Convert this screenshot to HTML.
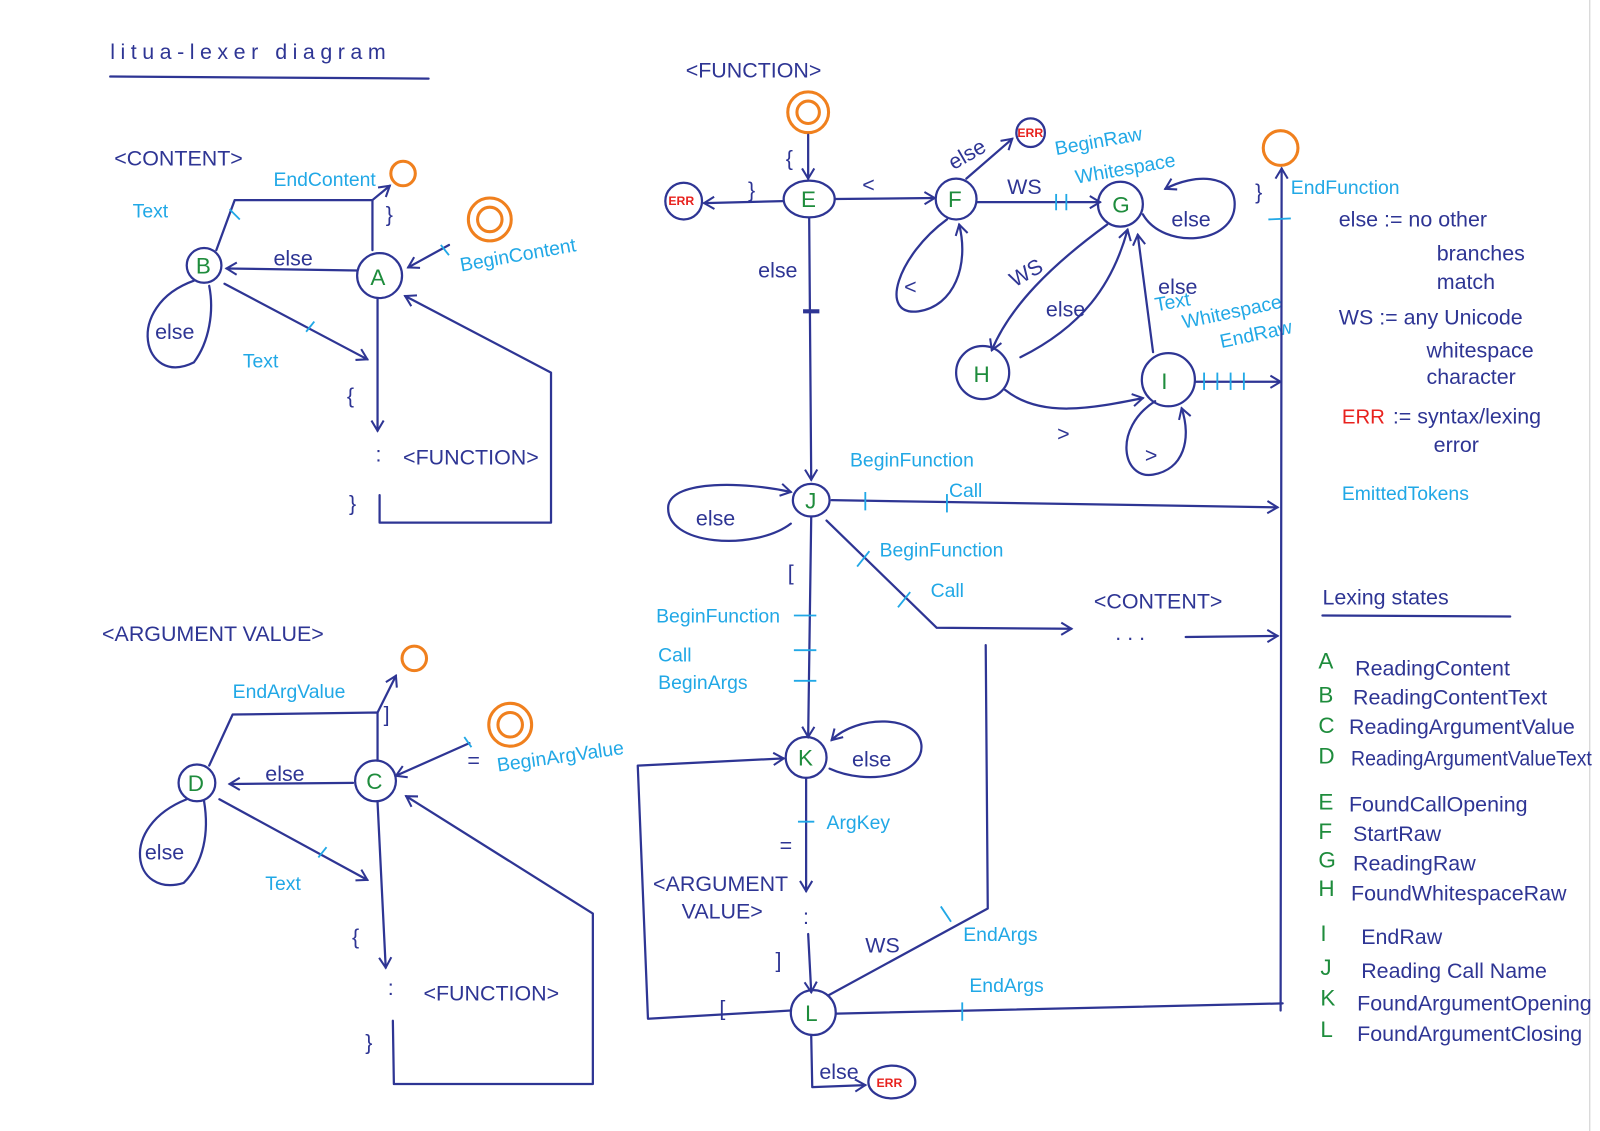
<!DOCTYPE html>
<html><head><meta charset="utf-8"><style>
html,body{margin:0;padding:0;background:#fff;}
svg{display:block}
text{font-family:"Liberation Sans",sans-serif;}
.b{fill:none;stroke:#2e3594;stroke-width:2.2;stroke-linecap:round;stroke-linejoin:round}
.c{fill:none;stroke:#21a8e6;stroke-width:1.8}
.o{fill:none;stroke:#f0801e;stroke-width:3}
.bt{fill:#2e3594;font-size:21px}
.ct{fill:#21a8e6;font-size:19px}
.gt{fill:#1e8c3c;font-size:22px}
.rt{fill:#e8221e;font-size:12px;font-weight:bold}
</style></head><body>
<svg width="1600" height="1131" viewBox="0 0 1568 1108" preserveAspectRatio="none" xmlns="http://www.w3.org/2000/svg">
<defs><marker id="a" markerWidth="14" markerHeight="14" refX="11" refY="7" orient="auto" markerUnits="userSpaceOnUse"><path d="M1,1 L11,7 L1,13" fill="none" stroke="#2e3594" stroke-width="2"/></marker></defs>
<rect width="1568" height="1108" fill="#fff"/>
<line x1="1558" y1="0" x2="1558" y2="1108" stroke="#ccc" stroke-width="1"/>
<!-- title -->
<text x="108" y="58" class="bt" font-size="26" textLength="270">litua-lexer  diagram</text>
<path class="b" d="M108,75 L420,77"/>

<!-- CONTENT -->
<text x="112" y="162" class="bt" font-size="22">&lt;CONTENT&gt;</text>
<circle class="b" cx="200" cy="260" r="17"/><text x="192" y="268" class="gt">B</text>
<circle class="b" cx="372" cy="270" r="22"/><text x="363" y="279" class="gt">A</text>
<circle class="o" cx="395" cy="170" r="12"/>
<circle class="o" cx="480" cy="215" r="21"/><circle class="o" cx="480" cy="215" r="12"/>
<path class="b" d="M350,265 L222,263" marker-end="url(#a)"/><text x="268" y="260" class="bt" font-size="18">else</text>
<path class="b" d="M212,245 L230,196 L365,196 L365,245"/><path class="b" d="M365,196 L382,182" marker-end="url(#a)"/>
<text x="268" y="182" class="ct" font-size="15">EndContent</text><text x="378" y="217" class="bt" font-size="18">}</text>
<line class="c" x1="225" y1="205" x2="235" y2="215"/>
<text x="130" y="213" class="ct">Text</text>
<path class="b" d="M190,275 C120,300 140,380 190,355 C205,335 210,305 205,280" /><text x="152" y="332" class="bt">else</text>
<path class="b" d="M220,278 L360,352" marker-end="url(#a)"/><text x="238" y="360" class="ct">Text</text>
<line class="c" x1="300" y1="325" x2="308" y2="315"/>
<path class="b" d="M370,292 L370,422" marker-end="url(#a)"/><text x="340" y="395" class="bt">{</text>
<text x="368" y="452" class="bt" font-size="16">:</text><text x="395" y="455" class="bt" font-size="17">&lt;FUNCTION&gt;</text>
<text x="342" y="500" class="bt">}</text>
<path class="b" d="M372,485 L372,512 L540,512 L540,365 L397,290" marker-end="url(#a)"/>
<path class="b" d="M440,240 L400,262" marker-end="url(#a)"/><line class="c" x1="432" y1="240" x2="440" y2="250"/>
<text x="452" y="266" class="ct" transform="rotate(-10 452 266)">BeginContent</text>

<!-- ARGUMENT VALUE -->
<text x="100" y="628" class="bt" font-size="22">&lt;ARGUMENT VALUE&gt;</text>
<circle class="b" cx="193" cy="767" r="18"/><text x="184" y="775" class="gt">D</text>
<circle class="b" cx="368" cy="765" r="20"/><text x="359" y="773" class="gt">C</text>
<circle class="o" cx="406" cy="645" r="12"/>
<circle class="o" cx="500" cy="710" r="21"/><circle class="o" cx="500" cy="710" r="12"/>
<path class="b" d="M346,767 L225,768" marker-end="url(#a)"/><text x="260" y="765" class="bt" font-size="18">else</text>
<path class="b" d="M205,750 L228,700 L370,698 L370,745"/><path class="b" d="M370,698 L388,662" marker-end="url(#a)"/>
<text x="228" y="684" class="ct" font-size="16">EndArgValue</text><text x="376" y="707" class="bt" font-size="18">]</text>
<path class="b" d="M183,783 C115,810 130,880 180,865 C200,845 205,815 200,785"/><text x="142" y="842" class="bt">else</text>
<path class="b" d="M215,783 L360,862" marker-end="url(#a)"/><text x="260" y="872" class="ct">Text</text>
<line class="c" x1="312" y1="840" x2="320" y2="830"/>
<path class="b" d="M370,786 L378,948" marker-end="url(#a)"/><text x="345" y="925" class="bt">{</text>
<text x="380" y="975" class="bt" font-size="16">:</text><text x="415" y="980" class="bt" font-size="16">&lt;FUNCTION&gt;</text>
<text x="358" y="1028" class="bt">}</text>
<path class="b" d="M385,1000 L386,1062 L581,1062 L581,895 L398,780" marker-end="url(#a)"/>
<path class="b" d="M460,728 L388,760" marker-end="url(#a)"/><line class="c" x1="455" y1="722" x2="462" y2="732"/>
<text x="458" y="752" class="bt">=</text><text x="488" y="756" class="ct" transform="rotate(-8 488 756)">BeginArgValue</text>

<!-- FUNCTION -->
<text x="672" y="76" class="bt" font-size="22">&lt;FUNCTION&gt;</text>
<circle class="o" cx="792" cy="110" r="20"/><circle class="o" cx="792" cy="110" r="11"/>
<path class="b" d="M792,132 L792,175" marker-end="url(#a)"/><text x="770" y="162" class="bt">{</text>
<ellipse class="b" cx="793" cy="195" rx="25" ry="18"/><text x="785" y="203" class="gt">E</text>
<circle class="b" cx="670" cy="197" r="18"/><text x="655" y="201" class="rt">ERR</text>
<path class="b" d="M767,197 L690,199" marker-end="url(#a)"/><text x="733" y="193" class="bt" font-size="18">}</text>
<path class="b" d="M818,195 L916,194" marker-end="url(#a)"/><text x="845" y="188" class="bt">&lt;</text>
<circle class="b" cx="937" cy="195" r="20"/><text x="929" y="203" class="gt">F</text>
<circle class="b" cx="1010" cy="130" r="14"/><text x="997" y="134" class="rt">ERR</text>
<path class="b" d="M947,175 L992,136" marker-end="url(#a)"/><text x="930" y="160" class="bt" font-size="17" transform="rotate(-30 945 155)">else</text>
<text x="1035" y="152" class="ct" font-size="16" transform="rotate(-10 1035 152)">BeginRaw</text>
<text x="1055" y="180" class="ct" font-size="16" transform="rotate(-10 1055 180)">Whitespace</text>
<path class="b" d="M958,198 L1078,198" marker-end="url(#a)"/><text x="987" y="190" class="bt">WS</text>
<line class="c" x1="1035" y1="190" x2="1035" y2="206"/><line class="c" x1="1045" y1="190" x2="1045" y2="206"/>
<path class="b" d="M928,215 C880,250 860,310 900,305 C935,300 950,260 940,220" marker-end="url(#a)"/><text x="886" y="288" class="bt">&lt;</text>
<circle class="b" cx="1098" cy="200" r="22"/><text x="1090" y="208" class="gt">G</text>
<path class="b" d="M1120,210 C1140,245 1210,240 1210,200 C1210,170 1170,170 1142,185" marker-end="url(#a)"/><text x="1148" y="222" class="bt">else</text>
<path class="b" d="M1085,220 C1030,260 990,300 972,343" marker-end="url(#a)"/><text x="990" y="275" class="bt" transform="rotate(-30 1005 270)">WS</text>
<path class="b" d="M1000,350 C1060,320 1090,280 1105,225" marker-end="url(#a)"/><text x="1025" y="310" class="bt" font-size="19">else</text>
<circle class="b" cx="963" cy="365" r="26"/><text x="954" y="374" class="gt">H</text>
<circle class="b" cx="1145" cy="372" r="26"/><text x="1138" y="381" class="gt">I</text>
<path class="b" d="M1130,345 L1115,230" marker-end="url(#a)"/>
<text x="1135" y="288" class="bt" font-size="19">else</text>
<text x="1133" y="305" class="ct" font-size="15" transform="rotate(-10 1133 305)">Text</text>
<text x="1160" y="322" class="ct" font-size="15" transform="rotate(-12 1160 322)">Whitespace</text>
<text x="1197" y="341" class="ct" font-size="14" transform="rotate(-12 1197 341)">EndRaw</text>
<path class="b" d="M985,382 C1020,410 1070,400 1120,390" marker-end="url(#a)"/><text x="1036" y="432" class="bt">&gt;</text>
<path class="b" d="M1132,393 C1090,420 1100,470 1130,465 C1160,460 1168,430 1158,400" marker-end="url(#a)"/><text x="1122" y="453" class="bt">&gt;</text>
<path class="b" d="M1172,374 L1255,374" marker-end="url(#a)"/>
<line class="c" x1="1180" y1="365" x2="1180" y2="382"/><line class="c" x1="1193" y1="365" x2="1193" y2="382"/><line class="c" x1="1206" y1="365" x2="1206" y2="382"/><line class="c" x1="1219" y1="365" x2="1219" y2="382"/>
<!-- E down to J -->
<path class="b" d="M793,214 L795,470" marker-end="url(#a)"/><text x="743" y="272" class="bt" font-size="19">else</text>
<line x1="787" y1="305" x2="803" y2="305" stroke="#2e3594" stroke-width="4"/>
<!-- end -->
<circle class="o" cx="1255" cy="145" r="17"/>
<path class="b" d="M1255,990 L1256,165" marker-end="url(#a)"/>
<text x="1230" y="195" class="bt" font-size="26">}</text><line class="c" x1="1243" y1="215" x2="1265" y2="214"/>
<text x="1265" y="190" class="ct" font-size="17">EndFunction</text>
<!-- J -->
<ellipse class="b" cx="795" cy="490" rx="18" ry="16"/><text x="789" y="498" class="gt" font-size="19">J</text>
<text x="833" y="457" class="ct" font-size="17">BeginFunction</text><text x="930" y="487" class="ct" font-size="17">Call</text>
<path class="b" d="M815,490 L1252,497" marker-end="url(#a)"/>
<line class="c" x1="848" y1="482" x2="848" y2="500"/><line class="c" x1="928" y1="484" x2="928" y2="502"/>
<path class="b" d="M775,513 C740,540 650,535 655,495 C660,470 730,472 775,482" marker-end="url(#a)"/><text x="682" y="515" class="bt">else</text>
<path class="b" d="M810,510 L918,615 L1050,616" marker-end="url(#a)"/>
<line class="c" x1="840" y1="555" x2="852" y2="540"/><line class="c" x1="880" y1="595" x2="892" y2="580"/>
<text x="862" y="545" class="ct" font-size="17">BeginFunction</text><text x="912" y="585" class="ct" font-size="17">Call</text>
<text x="1072" y="596" class="bt" font-size="15">&lt;CONTENT&gt;</text><text x="1093" y="627" class="bt" font-size="14">. . .</text>
<path class="b" d="M1162,624 L1252,623" marker-end="url(#a)"/>
<!-- J to K -->
<path class="b" d="M795,506 L792,722" marker-end="url(#a)"/><text x="772" y="568" class="bt" font-size="22">[</text>
<line class="c" x1="778" y1="603" x2="800" y2="603"/><line class="c" x1="778" y1="637" x2="800" y2="637"/><line class="c" x1="778" y1="667" x2="800" y2="667"/>
<text x="643" y="610" class="ct" font-size="17">BeginFunction</text><text x="645" y="648" class="ct" font-size="17">Call</text><text x="645" y="675" class="ct" font-size="17">BeginArgs</text>
<circle class="b" cx="790" cy="742" r="20"/><text x="782" y="750" class="gt" font-size="19">K</text>
<path class="b" d="M813,753 C850,770 905,760 903,730 C900,700 840,700 815,725" marker-end="url(#a)"/><text x="835" y="751" class="bt">else</text>
<path class="b" d="M790,762 L790,873" marker-end="url(#a)"/><line class="c" x1="782" y1="805" x2="798" y2="805"/>
<text x="810" y="812" class="ct" font-size="17">ArgKey</text><text x="764" y="835" class="bt" font-size="16">=</text>
<text x="640" y="873" class="bt" font-size="15">&lt;ARGUMENT</text><text x="668" y="900" class="bt" font-size="15">VALUE&gt;</text>
<text x="787" y="905" class="bt" font-size="16">:</text>
<path class="b" d="M792,915 L795,972" marker-end="url(#a)"/><text x="760" y="948" class="bt" font-size="18">]</text>
<circle class="b" cx="797" cy="992" r="22"/><text x="789" y="1000" class="gt">L</text>
<path class="b" d="M775,990 L635,998 L625,750 L768,743" marker-end="url(#a)"/><text x="705" y="995" class="bt" font-size="18">[</text>
<path class="b" d="M812,975 L968,890 L966,632"/>
<line class="c" x1="922" y1="888" x2="932" y2="903"/><text x="944" y="922" class="ct" font-size="17">EndArgs</text>
<text x="848" y="933" class="bt" font-size="18">WS</text>
<path class="b" d="M820,993 L1257,983"/><line class="c" x1="943" y1="982" x2="943" y2="1000"/>
<text x="950" y="972" class="ct" font-size="17">EndArgs</text>
<path class="b" d="M795,1015 L796,1065 L848,1063" marker-end="url(#a)"/><text x="803" y="1057" class="bt" font-size="17">else</text>
<ellipse class="b" cx="874" cy="1060" rx="23" ry="16"/><text x="859" y="1065" class="rt">ERR</text>

<!-- legend -->
<text x="1312" y="222" class="bt" font-size="21">else := no  other</text>
<text x="1408" y="255" class="bt" font-size="21">branches</text>
<text x="1408" y="283" class="bt" font-size="21">match</text>
<text x="1312" y="318" class="bt" font-size="21">WS := any Unicode</text>
<text x="1398" y="350" class="bt" font-size="21">whitespace</text>
<text x="1398" y="376" class="bt" font-size="21">character</text>
<text x="1315" y="415" fill="#e8221e" font-size="20">ERR</text><text x="1365" y="415" class="bt" font-size="20">:= syntax/lexing</text>
<text x="1405" y="443" class="bt" font-size="20">error</text>
<text x="1315" y="490" class="ct" font-size="17">EmittedTokens</text>
<text x="1296" y="592" class="bt" font-size="20">Lexing   states</text>
<path class="b" d="M1296,603 L1480,604"/>
<g font-size="18">
<text x="1292" y="655" class="gt">A</text><text x="1328" y="662" class="bt" font-size="18">ReadingContent</text>
<text x="1292" y="688" class="gt">B</text><text x="1326" y="690" class="bt" font-size="18">ReadingContentText</text>
<text x="1292" y="718" class="gt">C</text><text x="1322" y="719" class="bt" font-size="18">ReadingArgumentValue</text>
<text x="1292" y="748" class="gt">D</text><text x="1324" y="750" class="bt" font-size="16" textLength="236" lengthAdjust="spacingAndGlyphs">ReadingArgumentValueText</text>
<text x="1292" y="793" class="gt">E</text><text x="1322" y="795" class="bt" font-size="18">FoundCallOpening</text>
<text x="1292" y="822" class="gt">F</text><text x="1326" y="824" class="bt" font-size="18">StartRaw</text>
<text x="1292" y="850" class="gt">G</text><text x="1326" y="853" class="bt" font-size="18">ReadingRaw</text>
<text x="1292" y="878" class="gt">H</text><text x="1324" y="882" class="bt" font-size="17">FoundWhitespaceRaw</text>
<text x="1294" y="922" class="gt">I</text><text x="1334" y="925" class="bt" font-size="18">EndRaw</text>
<text x="1294" y="955" class="gt">J</text><text x="1334" y="958" class="bt" font-size="18">Reading Call Name</text>
<text x="1294" y="985" class="gt">K</text><text x="1330" y="990" class="bt" font-size="17">FoundArgumentOpening</text>
<text x="1294" y="1016" class="gt">L</text><text x="1330" y="1020" class="bt" font-size="17">FoundArgumentClosing</text>
</g>
</svg>
</body></html>
